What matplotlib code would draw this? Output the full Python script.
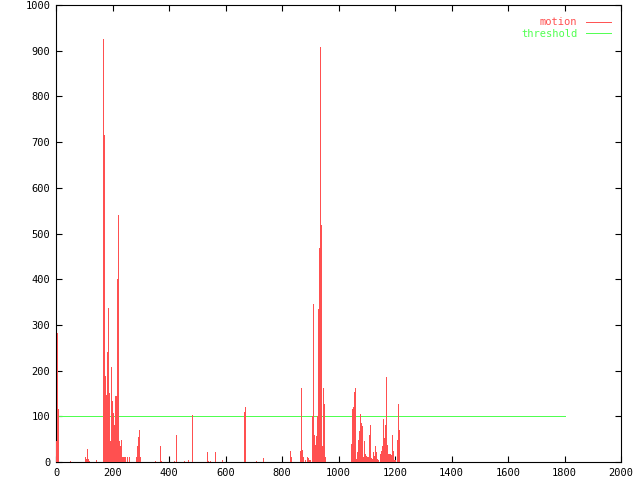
import matplotlib
matplotlib.use("Agg")
import matplotlib.pyplot as plt

# motion impulses (frame, value); all other frames in the range are zero
motion_frames = [
    0, 4, 7, 50, 103, 106, 110, 113, 117, 142,
    166, 170, 174, 177, 181, 184, 188, 191, 195, 198,
    202, 205, 209, 212, 216, 220, 223, 227, 230, 234,
    237, 241, 244, 251, 258, 283, 287, 290, 294, 297,
    350, 368, 372, 418, 425, 453, 467, 481, 535, 538,
    545, 563, 588, 666, 669, 708, 733, 828, 832, 864,
    867, 871, 874, 881, 889, 892, 896, 899, 906, 910,
    913, 917, 920, 924, 927, 931, 935, 938, 942, 945,
    949, 952, 1044, 1048, 1051, 1055, 1058, 1062, 1066, 1069,
    1073, 1076, 1080, 1083, 1087, 1090, 1094, 1097, 1101, 1104,
    1108, 1112, 1115, 1119, 1122, 1126, 1129, 1133, 1136, 1140,
    1147, 1150, 1154, 1158, 1161, 1165, 1168, 1172, 1175, 1179,
    1182, 1186, 1189, 1193, 1196, 1200, 1207, 1211, 1214,
]
motion_values = [
    45, 282, 117, 3, 12, 7, 29, 7, 3, 4,
    926, 715, 189, 147, 240, 338, 150, 47, 207, 134,
    108, 82, 144, 144, 401, 541, 47, 34, 49, 12,
    12, 12, 12, 12, 12, 10, 35, 55, 70, 12,
    3, 36, 3, 3, 60, 3, 4, 103, 22, 3,
    3, 22, 5, 110, 121, 3, 9, 25, 10, 25,
    162, 27, 10, 5, 10, 8, 5, 5, 100, 345,
    58, 38, 56, 100, 335, 469, 909, 519, 34, 163,
    128, 10, 40, 115, 120, 153, 163, 7, 21, 49,
    68, 105, 85, 78, 12, 46, 17, 14, 11, 11,
    60, 81, 9, 7, 21, 14, 36, 21, 7, 4,
    17, 25, 34, 95, 53, 82, 187, 38, 18, 18,
    18, 15, 60, 23, 4, 4, 49, 128, 71,
]
frame_range = [0, 1800]
threshold = 100

x_ticks = [0, 200, 400, 600, 800, 1000, 1200, 1400, 1600, 1800, 2000]
y_ticks = [0, 100, 200, 300, 400, 500, 600, 700, 800, 900, 1000]

red = "#ff5050"
green = "#50ff50"

plt.rcParams["font.family"] = ["DejaVu Sans Mono"]

fig = plt.figure(figsize=(6.4, 4.8), dpi=100, facecolor="white")
ax = fig.add_axes([56 / 640, 1 - 462 / 480, 565 / 640, 457 / 480])

lw = 0.7
ax.vlines(motion_frames, 0, motion_values, colors=red, linewidth=lw,
          antialiased=False, zorder=3)
ax.hlines(0, frame_range[0], frame_range[1], colors=red, linewidth=lw,
          antialiased=False, zorder=3)
ax.plot([], [], color=red, linewidth=lw, label="motion")
ax.plot(frame_range, [threshold, threshold], color=green, linewidth=lw,
        antialiased=False, label="threshold", zorder=2)

ax.set_xlim(x_ticks[0], x_ticks[-1])
ax.set_ylim(y_ticks[0], y_ticks[-1])
ax.set_xticks(x_ticks)
ax.set_yticks(y_ticks)
ax.tick_params(direction="in", length=4.5, width=0.8, top=True, right=True,
               labelsize=7.5, pad=4)

for spine in ax.spines.values():
    spine.set_linewidth(0.8)

leg = ax.legend(loc="upper right", bbox_to_anchor=(0.993, 0.987), frameon=False,
                markerfirst=False, fontsize=7.5,
                handlelength=2.4, handletextpad=0.8, labelspacing=0.15,
                borderaxespad=0.2)
for text, line in zip(leg.get_texts(), leg.get_lines()):
    text.set_color(line.get_color())

fig.savefig("out.png", dpi=100, facecolor="white")
